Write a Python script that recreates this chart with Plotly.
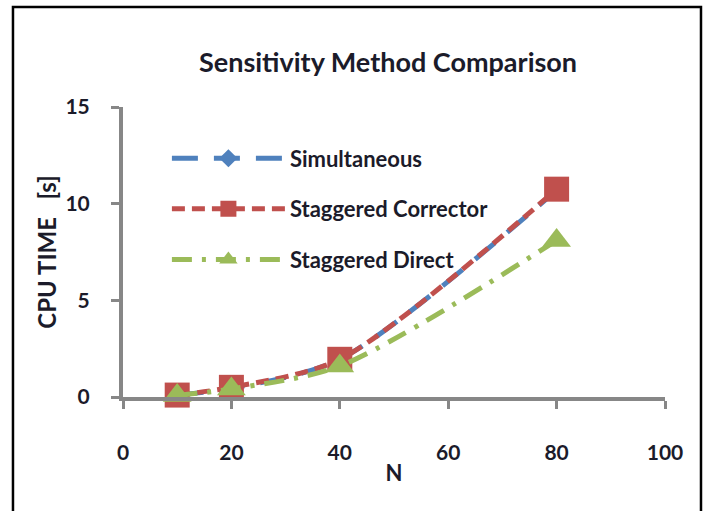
import plotly.graph_objects as go

# Problem size and measured CPU time for each sensitivity method
N = [10, 20, 40, 80]
simultaneous = [0.1, 0.45, 1.95, 10.7]
staggered_corrector = [0.1, 0.5, 1.95, 10.75]
staggered_direct = [0.08, 0.42, 1.6, 8.1]

x_ticks = [0, 20, 40, 60, 80, 100]
y_ticks = [0, 5, 10, 15]

FONT = "Lato"
TEXT = "#1b1b2a"
AXIS = "#878787"
NB = "\u00a0"

fig = go.Figure()

fig.add_trace(go.Scatter(
    x=N, y=simultaneous, name="Simultaneous", mode="lines+markers",
    line=dict(color="#4F81BD", width=5, dash="26px,16px", shape="spline", smoothing=0.8),
    marker=dict(symbol="diamond", size=14, color="#4F81BD"),
    cliponaxis=False, legendgroup="a",
))
fig.add_trace(go.Scatter(
    x=N, y=staggered_corrector, name="Staggered Corrector", mode="lines+markers",
    line=dict(color="#C0504D", width=5, dash="13px,7px", shape="spline", smoothing=0.8),
    marker=dict(symbol="square", size=25, color="#C0504D"),
    cliponaxis=False, legendgroup="b",
))
fig.add_trace(go.Scatter(
    x=N, y=staggered_direct, name="Staggered Direct", mode="lines+markers",
    line=dict(color="#9BBB59", width=5, dash="20px,10px,4px,10px", shape="spline", smoothing=0.8),
    marker=dict(symbol="triangle-up", size=25, color="#9BBB59"),
    cliponaxis=False, legendgroup="c",
))

# outer chart frame
fig.add_shape(type="rect", xref="paper", yref="paper",
              x0=-0.203, x1=1.0664, y0=-0.45, y1=1.3448,
              line=dict(color="black", width=2.5), layer="below")

fig.update_layout(
    width=707, height=511,
    margin=dict(l=123, r=42, t=107, b=114),
    paper_bgcolor="white", plot_bgcolor="white",
    font=dict(family=FONT, color=TEXT),
    title=dict(text="Sensitivity Method Comparison", x=0.489, xref="paper",
               xanchor="center", y=0.878, yanchor="middle",
               font=dict(family=FONT, size=27, color=TEXT, weight="bold")),
    legend=dict(x=0.081, y=0.895, xanchor="left", yanchor="top",
                bgcolor="rgba(0,0,0,0)", itemwidth=113, tracegroupgap=19,
                font=dict(family=FONT, size=22, color=TEXT, weight="bold")),
    showlegend=True,
)

fig.update_xaxes(
    range=[0, 100], tickvals=x_ticks, showgrid=False, zeroline=False,
    showline=True, linecolor=AXIS, linewidth=4,
    ticks="outside", ticklen=8, tickwidth=3, tickcolor=AXIS,
    ticklabelstandoff=26,
    tickfont=dict(family=FONT, size=21, color=TEXT, weight="bold"),
    title=dict(text="N", standoff=3, font=dict(family=FONT, size=22, color=TEXT, weight="bold")),
)
fig.update_yaxes(
    range=[0, 15], tickvals=y_ticks, showgrid=False, zeroline=False,
    showline=True, linecolor=AXIS, linewidth=4,
    ticks="outside", ticklen=8, tickwidth=3, tickcolor=AXIS,
    ticklabelstandoff=17,
    tickfont=dict(family=FONT, size=21, color=TEXT, weight="bold"),
    title=dict(text=f"CPU TIME{NB}{NB}{NB}[s]", standoff=3,
               font=dict(family=FONT, size=24, color=TEXT, weight="bold")),
)

fig.write_html("out.html")
